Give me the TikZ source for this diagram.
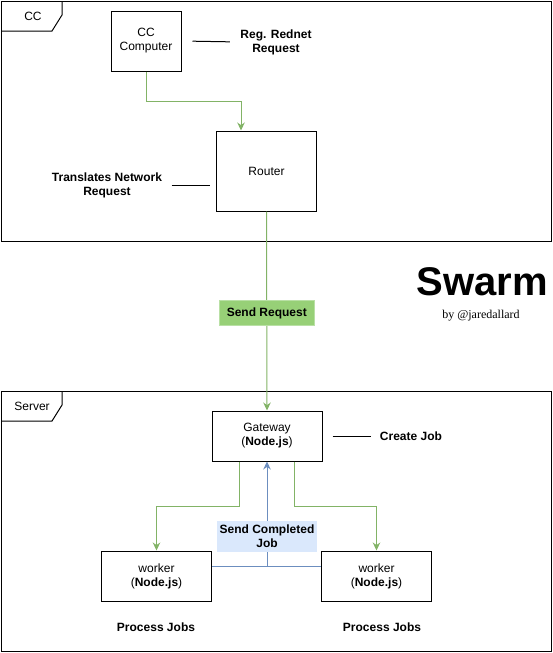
\documentclass[tikz,border=0pt]{standalone}
\usepackage{fontspec}
\setmainfont{Liberation Sans}
\newfontfamily\bylinefont{Liberation Serif}
\usepackage{xcolor}
\usetikzlibrary{arrows.meta,positioning}

\definecolor{flowgreen}{HTML}{82B366}
\definecolor{flowblue}{HTML}{6C8EBF}
\definecolor{reqfill}{HTML}{97D077}
\definecolor{reqedge}{HTML}{B9E0A5}
\definecolor{donefill}{HTML}{DAE8FC}

\begin{document}
\begin{tikzpicture}[x=1pt, y=-1pt, line width=1pt,
    font=\fontsize{12}{14}\selectfont,
    box/.style={rectangle, draw, align=center, inner sep=2pt},
    note/.style={align=center, inner sep=0pt, font=\fontsize{12}{14}\selectfont\bfseries},
    tip/.style={-{Stealth[length=8pt,width=7.5pt]}}]
    \useasboundingbox (0,0) rectangle (553,653);

    % frames
    \draw (1,1) rectangle (551,241);
    \draw (62,1) -- (62,15) -- (52,31) -- (1,31);
    \node (ccTab) at (33,16) {CC};
    \draw (1,391) rectangle (551,651);
    \draw (62,391) -- (62,405) -- (52,421) -- (1,421);
    \node (serverTab) at (32,406) {Server};

    % boxes
    \node[box, minimum width=70pt, minimum height=60pt] (computer) at (146,41) {CC\\Computer};
    \node[box, minimum width=100pt, minimum height=80pt] (router) at (266.5,171) {Router};
    \node[box, minimum width=110pt, minimum height=50pt] (gateway) at (267,436) {Gateway\\(\textbf{Node.js})};
    \node[box, minimum width=110pt, minimum height=50pt] (workerA) at (156.5,576) {worker\\(\textbf{Node.js})};
    \node[box, minimum width=110pt, minimum height=50pt] (workerB) at (376.5,576) {worker\\(\textbf{Node.js})};

    % notes
    \node[note] (regNote) at (276,42) {Reg. Rednet\\Request};
    \node[note] (transNote) at (107,185) {Translates Network\\Request};
    \node[note] (jobNote) at (411,436) {Create Job};
    \node[note] (procA) at (156,627) {Process Jobs};
    \node[note] (procB) at (382,627) {Process Jobs};
    \node[font=\fontsize{40}{42}\selectfont\bfseries, inner sep=0pt, anchor=base] (title) at (482,295) {Swarm};
    \node[font=\fontsize{12}{14}\selectfont\bylinefont, inner sep=0pt, anchor=base] (byline) at (481,318) {by @jaredallard};

    \draw[shorten <=11pt, shorten >=10pt] (computer.east) -- (regNote.west);
    \draw[shorten <=9pt, shorten >=6pt] (transNote.east) -- (transNote.east -| router.west);
    \draw[shorten <=10pt, shorten >=8pt] (gateway.east) -- (jobNote.west);

    % requests
    \draw[flowgreen, tip] (computer.south) -- ++(0,30) -| ([xshift=-25.5pt]router.north);
    \draw[flowgreen, tip] (router.south) -- node[pos=0.51, fill=reqfill, draw=reqedge, text=black, font=\fontsize{12}{14}\selectfont\bfseries, minimum width=95pt, minimum height=25pt, inner sep=0pt] (sendReq) {Send Request} (gateway.north);
    \draw[flowgreen, tip] ([xshift=-27.5pt]gateway.south) -- ++(0,45) -| (workerA.north);
    \draw[flowgreen, tip] ([xshift=27.5pt]gateway.south) -- ++(0,45) -| (workerB.north);

    % results
    \draw[flowblue, tip] ([yshift=10pt]workerA.east) -| (gateway.south);
    \draw[flowblue] ([yshift=10pt]workerB.west) -- ([yshift=10pt]workerB.west -| gateway.south);
    \node[fill=donefill, align=center, font=\fontsize{12}{14}\selectfont\bfseries, minimum width=100pt, minimum height=31pt, inner sep=0pt] (sendDone) at (267,536) {Send Completed\\Job};
\end{tikzpicture}
\end{document}
